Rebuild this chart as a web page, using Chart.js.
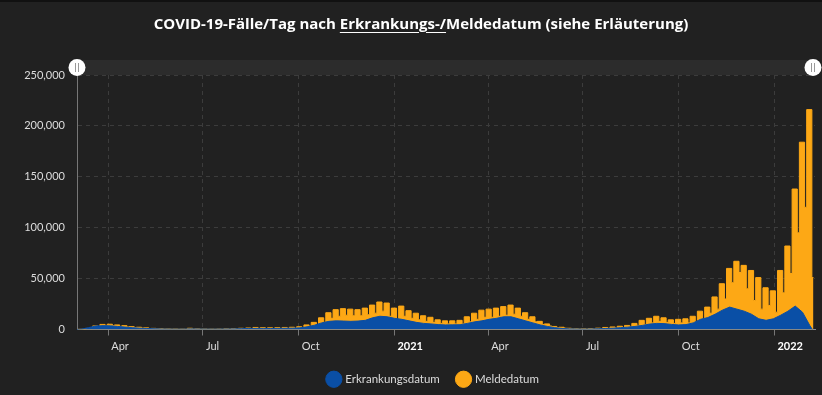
<!DOCTYPE html>
<html>
<head>
<meta charset="utf-8">
<script src="https://cdn.jsdelivr.net/npm/chart.js@4.4.1/dist/chart.umd.min.js"></script>
<style>
  html, body { margin: 0; padding: 0; background: #212121; }
  #wrap { position: relative; width: 822px; height: 395px; border-top: 2px solid #111; box-sizing: border-box; }
  #title { position: absolute; top: 11px; left: 10px; width: 822px; text-align: center; color: #fff;
           font: 700 15px "Open Sans", sans-serif; }
  #title u { text-underline-offset: 3px; }
  canvas { position: absolute; top: -2px; left: 0; }
</style>
</head>
<body>
<div id="wrap">
  <canvas id="chart" width="822" height="395"></canvas>
  <div id="title">COVID-19-Fälle/Tag nach <u>Erkrankungs-/</u>Meldedatum (siehe Erläuterung)</div>
</div>
<script>
// days are counted from 1 Jan 2020 (day 0); weeks start on Tuesday 3 Mar 2020 (day 62)
const firstWeekDay = 62;
const xMin = 61;   // 2 Mar 2020
const xMax = 770;  // 9 Feb 2022
const lastDay = 768.5;

// Meldedatum, thousands per day: Tue-Sat level and Sun-Mon level of each week
const meldeHoch = [
  0.2, 1.0, 3.5, 5.0, 5.2, 4.5, 3.8, 2.8, 2.2, 1.6,
  1.1, 0.8, 0.6, 0.5, 0.4, 1.2, 0.7, 0.5, 0.4, 0.5,
  0.7, 0.9, 1.2, 1.5, 2.0, 1.8, 1.7, 1.8, 2.0, 2.2,
  2.7, 4.5, 7.0, 11.5, 16.5, 19.5, 20.5, 20.0, 19.5, 21.0,
  24.0, 27.0, 26.0, 21.0, 23.0, 18.5, 16.0, 13.5, 12.0, 9.5,
  8.5, 8.5, 9.0, 12.5, 16.0, 19.0, 20.0, 21.0, 22.5, 24.0,
  21.0, 16.5, 12.5, 8.0, 5.5, 3.0, 2.2, 1.2, 0.8, 0.7,
  0.9, 1.3, 2.0, 2.5, 3.2, 4.0, 6.0, 9.0, 11.0, 13.0,
  11.5, 9.5, 10.0, 10.5, 13.0, 18.0, 22.0, 32.0, 45.0, 60.0,
  67.0, 63.0, 58.0, 51.0, 41.0, 38.0, 58.0, 82.0, 138.0, 184.0,
  216.0
];
const meldeTief = [
  0.1, 0.6, 2.5, 3.5, 3.8, 2.8, 2.5, 1.8, 1.4, 1.0,
  0.7, 0.5, 0.4, 0.3, 0.3, 0.5, 0.4, 0.3, 0.3, 0.3,
  0.4, 0.5, 0.6, 0.8, 1.0, 1.0, 0.9, 1.0, 1.1, 1.2,
  1.6, 2.5, 4.0, 7.0, 11.0, 13.0, 14.0, 13.5, 13.5, 14.5,
  16.0, 18.0, 13.0, 10.0, 13.0, 11.0, 9.5, 8.0, 7.0, 6.0,
  5.5, 5.5, 5.5, 7.5, 10.0, 12.0, 12.0, 13.0, 14.0, 15.0,
  13.0, 10.0, 7.5, 5.0, 3.5, 1.8, 1.3, 0.7, 0.5, 0.4,
  0.5, 0.7, 1.0, 1.3, 1.8, 2.5, 3.5, 5.0, 6.5, 8.0,
  7.0, 6.0, 6.5, 6.5, 7.5, 10.0, 16.0, 20.0, 30.0, 46.0,
  56.0, 40.0, 28.5, 20.0, 23.5, 17.0, 36.0, 55.0, 95.0, 120.0,
  51.0
];
// Erkrankungsdatum, thousands per day, one value per week
const erkrankung = [
  0.3, 1.8, 3.4, 3.8, 3.6, 3.0, 2.4, 1.8, 1.3, 1.0,
  0.7, 0.5, 0.4, 0.35, 0.35, 0.6, 0.5, 0.4, 0.35, 0.4,
  0.5, 0.6, 0.8, 1.0, 1.1, 1.1, 1.0, 1.1, 1.2, 1.3,
  1.6, 2.6, 4.2, 6.5, 8.0, 8.5, 8.3, 8.0, 8.3, 9.0,
  11.5, 13.0, 12.5, 11.0, 10.0, 8.5, 7.0, 6.0, 5.5, 4.8,
  4.5, 4.6, 4.7, 6.0, 7.5, 8.5, 10.0, 11.0, 12.5, 12.5,
  10.5, 8.5, 6.5, 4.5, 3.0, 1.8, 1.0, 0.6, 0.5, 0.4,
  0.5, 0.7, 1.0, 1.3, 1.8, 2.3, 3.0, 4.0, 5.3, 6.0,
  5.8, 5.0, 4.5, 4.8, 6.5, 10.0, 11.7, 15.0, 19.0, 22.0,
  20.0, 18.0, 15.0, 10.5, 9.0, 10.5, 14.0, 18.0, 23.0, 17.0,
  4.0
];

const tickDays = [91, 182, 274, 366, 456, 547, 639, 731];
const tickLabels = ['Apr', 'Jul', 'Oct', '2021', 'Apr', 'Jul', 'Oct', '2022'];

// build point lists for the library
const meldePts = [];
meldeHoch.forEach((v, k) => {
    meldePts.push({ x: firstWeekDay + 7 * k, y: v * 1000 });
    meldePts.push({ x: firstWeekDay + 7 * k + 5, y: meldeTief[k] * 1000 });
});
meldePts.push({ x: lastDay, y: meldeTief[meldeTief.length - 1] * 1000 });

const erkPts = [{ x: xMin, y: 0 }];
erkrankung.forEach((v, k) => erkPts.push({ x: firstWeekDay + 7 * k + 3, y: v * 1000 }));
erkPts.push({ x: lastDay - 1, y: 0 });

const isYear = (v) => { const i = tickDays.indexOf(v); return i >= 0 && /^\d{4}$/.test(tickLabels[i]); };

// scrollbar strip above the plot, legend nudged right like the original
const scrollbarPlugin = {
    id: 'scrollbar',
    afterLayout(chart) {
        chart.legend.left += 26;
        chart.legend.right += 26;
    },
    beforeDraw(chart) {
        const { ctx, chartArea: a } = chart;
        ctx.save();
        ctx.fillStyle = '#2c2c2c';
        ctx.fillRect(a.left, a.top - 15, a.right - a.left, 15);
        ctx.restore();
    },
    afterDraw(chart) {
        const { ctx, chartArea: a } = chart;
        const cy = a.top - 7.5;
        ctx.save();
        ctx.strokeStyle = '#777';
        ctx.lineWidth = 1;
        ctx.beginPath();
        ctx.moveTo(a.left + 0.5, cy);
        ctx.lineTo(a.left + 0.5, a.top);
        ctx.stroke();
        [a.left, a.right - 2].forEach(x => {
            ctx.fillStyle = '#fff';
            ctx.beginPath();
            ctx.arc(x, cy, 8.5, 0, Math.PI * 2);
            ctx.fill();
            ctx.strokeStyle = '#999';
            ctx.beginPath();
            ctx.moveTo(x - 1.5, cy - 4.5); ctx.lineTo(x - 1.5, cy + 4.5);
            ctx.moveTo(x + 1.5, cy - 4.5); ctx.lineTo(x + 1.5, cy + 4.5);
            ctx.stroke();
        });
        ctx.restore();
    }
};

new Chart(document.getElementById('chart'), {
    type: 'line',
    data: {
        datasets: [{
            label: 'Erkrankungsdatum',
            data: erkPts,
            borderColor: '#0a4fa6',
            backgroundColor: '#0a4fa6',
            borderWidth: 1,
            fill: 'origin',
            pointRadius: 0
        }, {
            label: 'Meldedatum',
            data: meldePts,
            borderColor: '#fda815',
            backgroundColor: '#fda815',
            borderWidth: 1,
            fill: 'origin',
            stepped: true,
            pointRadius: 0
        }]
    },
    options: {
        responsive: false,
        animation: false,
        layout: { padding: { top: 75, right: 7, bottom: 0, left: 0 } },
        scales: {
            x: {
                type: 'linear',
                min: xMin,
                max: xMax,
                afterBuildTicks: (s) => { s.ticks = tickDays.map(v => ({ value: v })); },
                afterFit: (s) => { s.height = 26; },
                ticks: {
                    autoSkip: false,
                    maxRotation: 0,
                    align: 'start',
                    labelOffset: 3,
                    padding: 4,
                    color: (c) => isYear(c.tick.value) ? '#fff' : '#ddd',
                    font: (c) => ({ family: 'Lato', size: 11, weight: isYear(c.tick && c.tick.value) ? 'bold' : 'normal' }),
                    callback: (v) => { const i = tickDays.indexOf(v); return i >= 0 ? tickLabels[i] : ''; }
                },
                grid: {
                    color: '#3c3c3c',
                    tickColor: '#777',
                    tickLength: 6,
                    tickBorderDash: []
                },
                border: { color: '#8a8d93', dash: [4, 4] }
            },
            y: {
                min: 0,
                max: 250000,
                afterFit: (s) => { s.width = 77; },
                ticks: {
                    stepSize: 50000,
                    padding: 12,
                    color: '#ddd',
                    font: { family: 'Lato', size: 11 },
                    callback: (v) => v.toLocaleString('en-US')
                },
                grid: { color: '#3c3c3c', drawTicks: false },
                border: { color: '#777', dash: [4, 4] }
            }
        },
        plugins: {
            legend: {
                position: 'bottom',
                maxHeight: 40,
                labels: {
                    usePointStyle: true,
                    pointStyle: 'circle',
                    color: '#ddd',
                    font: { family: 'Lato', size: 11.5 },
                    padding: 18
                }
            },
            tooltip: { enabled: false }
        }
    },
    plugins: [scrollbarPlugin]
});
</script>
</body>
</html>
